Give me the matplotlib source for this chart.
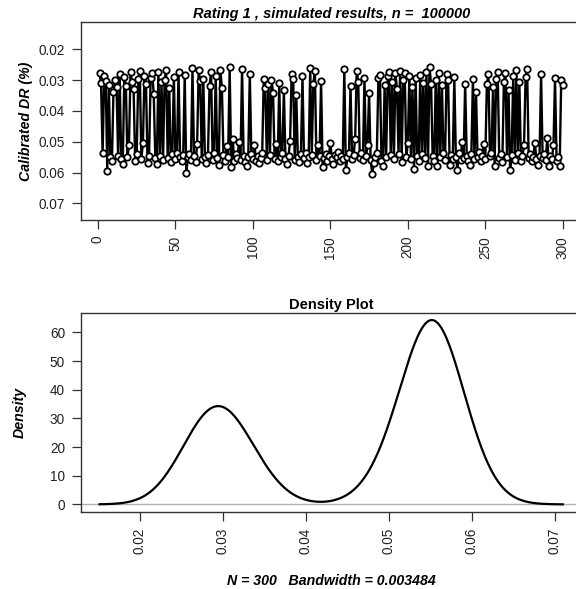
import numpy as np
import matplotlib
matplotlib.use("Agg")
import matplotlib.pyplot as plt

plt.rcParams['font.family'] = ['Liberation Sans', 'DejaVu Sans']

# calibrated DR, 300 simulated runs
dr = [
    0.0278, 0.0310, 0.0538, 0.0287, 0.0302, 0.0595, 0.0315, 0.0551, 0.0563, 0.0338,
    0.0299, 0.0322, 0.0546, 0.0281, 0.0557, 0.0572, 0.0290, 0.0318, 0.0549, 0.0512,
    0.0274, 0.0306, 0.0330, 0.0561, 0.0540, 0.0296, 0.0270, 0.0556, 0.0505, 0.0286,
    0.0313, 0.0568, 0.0545, 0.0292, 0.0276, 0.0345, 0.0553, 0.0571, 0.0272, 0.0547,
    0.0305, 0.0560, 0.0298, 0.0268, 0.0552, 0.0325, 0.0566, 0.0541, 0.0289, 0.0555,
    0.0537, 0.0275, 0.0549, 0.0562, 0.0544, 0.0284, 0.0603, 0.0551, 0.0539, 0.0558,
    0.0262, 0.0547, 0.0565, 0.0508, 0.0267, 0.0304, 0.0556, 0.0295, 0.0548, 0.0569,
    0.0542, 0.0320, 0.0273, 0.0559, 0.0536, 0.0285, 0.0553, 0.0575, 0.0266, 0.0327,
    0.0544, 0.0561, 0.0515, 0.0550, 0.0258, 0.0582, 0.0492, 0.0563, 0.0539, 0.0554,
    0.0502, 0.0558, 0.0263, 0.0545, 0.0566, 0.0578, 0.0550, 0.0280, 0.0541, 0.0557,
    0.0510, 0.0562, 0.0546, 0.0570, 0.0552, 0.0538, 0.0297, 0.0324, 0.0559, 0.0311,
    0.0543, 0.0299, 0.0340, 0.0556, 0.0506, 0.0564, 0.0308, 0.0549, 0.0537, 0.0333,
    0.0555, 0.0573, 0.0546, 0.0498, 0.0279, 0.0296, 0.0560, 0.0348, 0.0548, 0.0565,
    0.0540, 0.0288, 0.0554, 0.0536, 0.0568, 0.0551, 0.0261, 0.0544, 0.0312, 0.0271,
    0.0558, 0.0511, 0.0547, 0.0303, 0.0582, 0.0552, 0.0539, 0.0563, 0.0545, 0.0504,
    0.0556, 0.0571, 0.0542, 0.0550, 0.0534, 0.0561, 0.0547, 0.0555, 0.0264, 0.0592,
    0.0549, 0.0537, 0.0319, 0.0557, 0.0543, 0.0490, 0.0269, 0.0307, 0.0552, 0.0538,
    0.0560, 0.0294, 0.0546, 0.0509, 0.0342, 0.0558, 0.0605, 0.0570, 0.0548, 0.0535,
    0.0293, 0.0283, 0.0562, 0.0578, 0.0316, 0.0551, 0.0287, 0.0274, 0.0544, 0.0306,
    0.0557, 0.0278, 0.0328, 0.0539, 0.0270, 0.0565, 0.0300, 0.0277, 0.0550, 0.0503,
    0.0285, 0.0556, 0.0321, 0.0589, 0.0293, 0.0547, 0.0561, 0.0282, 0.0540, 0.0309,
    0.0553, 0.0272, 0.0578, 0.0256, 0.0314, 0.0545, 0.0562, 0.0298, 0.0580, 0.0276,
    0.0549, 0.0315, 0.0536, 0.0558, 0.0280, 0.0301, 0.0574, 0.0543, 0.0555, 0.0290,
    0.0548, 0.0592, 0.0537, 0.0560, 0.0500, 0.0552, 0.0311, 0.0546, 0.0564, 0.0576,
    0.0541, 0.0297, 0.0557, 0.0337, 0.0550, 0.0534, 0.0562, 0.0545, 0.0507, 0.0555,
    0.0313, 0.0279, 0.0547, 0.0538, 0.0323, 0.0580, 0.0295, 0.0273, 0.0553, 0.0541,
    0.0566, 0.0305, 0.0276, 0.0549, 0.0331, 0.0592, 0.0544, 0.0286, 0.0558, 0.0268,
    0.0536, 0.0307, 0.0561, 0.0547, 0.0510, 0.0289, 0.0265, 0.0554, 0.0540, 0.0563,
    0.0548, 0.0505, 0.0557, 0.0574, 0.0545, 0.0281, 0.0552, 0.0539, 0.0560, 0.0488,
    0.0578, 0.0546, 0.0555, 0.0512, 0.0292, 0.0562, 0.0549, 0.0580, 0.0300, 0.0317,
]
bandwidth = 0.003484
top_xticks = [0, 50, 100, 150, 200, 250, 300]
top_yticks = [0.02, 0.03, 0.04, 0.05, 0.06, 0.07]
bot_xticks = [0.02, 0.03, 0.04, 0.05, 0.06, 0.07]
bot_yticks = [0, 10, 20, 30, 40, 50, 60]

x = np.asarray(dr)
idx = np.arange(1, len(x) + 1)

# gaussian kde like R density()
grid = np.linspace(x.min() - 3 * bandwidth, x.max() + 3 * bandwidth, 512)
dens = np.exp(-0.5 * ((grid[:, None] - x[None, :]) / bandwidth) ** 2).sum(1)
dens = dens / (len(x) * bandwidth * np.sqrt(2 * np.pi))

fig = plt.figure(figsize=(5.76, 5.89), dpi=100)
ax1 = fig.add_axes([0.1406, 0.6265, 0.8686, 0.3367])
ax2 = fig.add_axes([0.1406, 0.1312, 0.8686, 0.3379])

def style(ax):
    for s in ax.spines.values():
        s.set_color('#333333')
        s.set_linewidth(1.0)
    ax.tick_params(direction='out', length=6.5, width=0.9, color='#333333',
                   labelsize=9.8, labelcolor='#222222', pad=5)

# top: trace of the runs
ax1.plot(idx, x, color='black', lw=1.7, marker='o', ms=4.6,
         mfc='white', mec='black', mew=1.3)
ax1.set_xlim(1 - 0.04 * 299, 300 + 0.04 * 299)
ax1.set_ylim(0.0754, 0.0110)
ax1.set_xticks(top_xticks)
ax1.set_xticklabels([str(t) for t in top_xticks], rotation=90)
ax1.set_yticks(top_yticks)
ax1.set_yticklabels(['%.2f' % t for t in top_yticks])
ax1.set_title('Rating 1 , simulated results, n =  100000', fontsize=10.5,
              fontweight='bold', fontstyle='italic', pad=3)
ax1.set_ylabel('Calibrated DR (%)', fontsize=10.2, fontweight='bold',
               fontstyle='italic', labelpad=4)
style(ax1)

# bottom: density
ax2.axhline(0, color='#b0b0b0', lw=1.0)
ax2.plot(grid, dens, color='black', lw=1.6)
r = grid.max() - grid.min()
ax2.set_xlim(grid.min() - 0.04 * r, grid.max() + 0.04 * r)
rd = dens.max() - dens.min()
ax2.set_ylim(dens.min() - 0.04 * rd, dens.max() + 0.04 * rd)
ax2.set_xticks(bot_xticks)
ax2.set_xticklabels(['%.2f' % t for t in bot_xticks], rotation=90)
ax2.set_yticks(bot_yticks)
ax2.set_title('Density Plot', fontsize=10.5, fontweight='bold', pad=3)
ax2.set_ylabel('Density', fontsize=10.2, fontweight='bold', fontstyle='italic',
               labelpad=17)
ax2.set_xlabel('N = %d   Bandwidth = %.6f' % (len(x), bandwidth), fontsize=10.2,
               fontweight='bold', fontstyle='italic', labelpad=14)
style(ax2)

fig.savefig('out.png', dpi=100)
